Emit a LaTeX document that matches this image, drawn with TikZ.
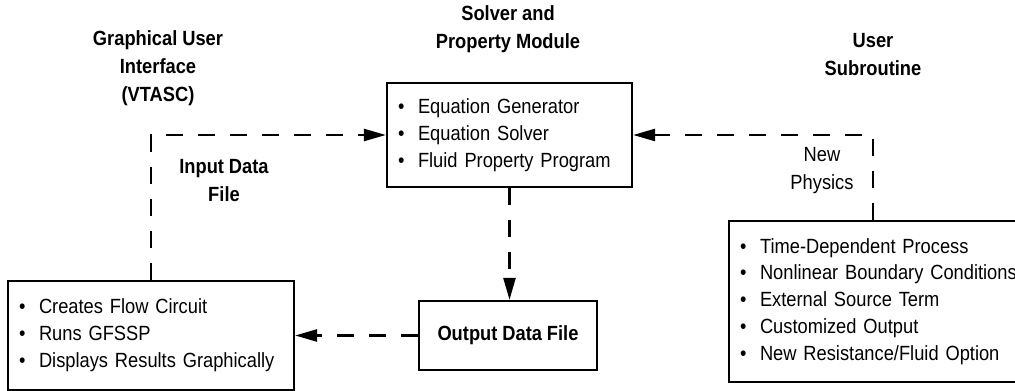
\documentclass[tikz,border=0pt]{standalone}
\usepackage{fontspec}
\setmainfont{Liberation Sans}[FakeStretch=0.89]
\usetikzlibrary{arrows.meta}
\newcommand{\itm}[1]{\mbox{\makebox[0.4cm][l]{\textbullet}#1}}
\newcommand{\tightsp}{\spaceskip=0.24em plus 0.05em minus 0.05em\relax}
\tikzset{
  box/.style={draw,line width=1.3pt,rectangle,inner xsep=0.22cm,inner ysep=0pt,
    align=left,font=\fontsize{11.7}{15.3}\selectfont\tightsp},
  head/.style={align=center,font=\bfseries\fontsize{11.7}{15.9}\selectfont\tightsp},
  note/.style={align=center,font=\fontsize{11.7}{15.9}\selectfont},
  flow/.style={line width=1.4pt,dash pattern=on 0.34cm off 0.3cm,
    -{Triangle[length=0.44cm,width=0.24cm]}},
}

\begin{document}
\begin{tikzpicture}[x=0.02cm,y=-0.02cm]
	\useasboundingbox (0,0) rectangle (1015,391);
	% boxes
	\node[box,text width=5.28cm,minimum height=2.18cm] (gui) at (151,335.5)
		{\itm{Creates Flow Circuit}\\ \itm{Runs GFSSP}\\ \itm{Displays Results Graphically}};
	\node[box,text width=4.46cm,minimum height=2.08cm] (solver) at (509.5,135)
		{\itm{Equation Generator}\\ \itm{Equation Solver}\\ \itm{Fluid Property Program}};
	\node[box,align=center,font=\bfseries\fontsize{11.7}{15.3}\selectfont\tightsp,
		minimum width=3.56cm,minimum height=1.38cm] (output) at (508,335.5) {Output Data File};
	\node[box,text width=5.32cm,minimum height=3.22cm] (user) at (873,301.5)
		{\itm{Time-Dependent Process}\\ \itm{Nonlinear Boundary Conditions}\\ \itm{External Source Term}\\
		 \itm{Customized Output}\\ \itm{New Resistance/Fluid Option}};
	% headings
	\node[head] (guilbl) at (158,68) {Graphical User\\Interface\\(VTASC)};
	\node[head] (solverlbl) at (508,29) {Solver and\\Property Module};
	\node[head] (userlbl) at (873,55) {User\\Subroutine};
	\node[head] (inputlbl) at (224,181) {Input Data\\File};
	\node[note] (physlbl) at (822,171) {New\\Physics};
	% data flow
	\draw[flow] (gui.north) |- (solver.west);
	\draw[flow] (user.north) |- (solver.east);
	\draw[flow] (solver.south) -- (solver.south |- output.north);
	\draw[flow] (output.west) -- (gui.east);
\end{tikzpicture}
\end{document}
